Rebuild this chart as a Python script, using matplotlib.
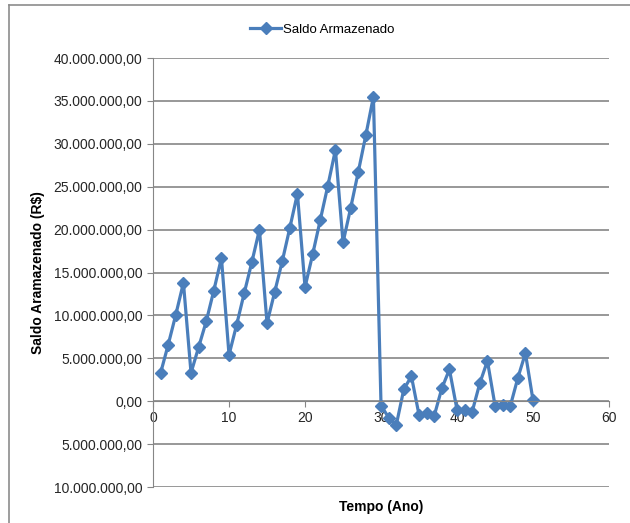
import matplotlib.pyplot as plt
from matplotlib.lines import Line2D
from matplotlib.ticker import FuncFormatter

# ano e saldo armazenado (R$)
anos = list(range(1, 51))
saldo = [
    3.3e6, 6.6e6, 10.1e6, 13.8e6, 3.3e6, 6.3e6, 9.3e6, 12.9e6, 16.7e6, 5.4e6,
    8.9e6, 12.6e6, 16.2e6, 20.0e6, 9.1e6, 12.7e6, 16.3e6, 20.2e6, 24.2e6, 13.3e6,
    17.1e6, 21.1e6, 25.1e6, 29.3e6, 18.5e6, 22.5e6, 26.7e6, 31.0e6, 35.5e6, -0.5e6,
    -1.9e6, -2.8e6, 1.4e6, 2.9e6, -1.6e6, -1.4e6, -1.7e6, 1.5e6, 3.7e6, -1.0e6,
    -1.0e6, -1.2e6, 2.1e6, 4.7e6, -0.5e6, -0.4e6, -0.6e6, 2.7e6, 5.6e6, 0.1e6,
]
x_ticks = [0, 10, 20, 30, 40, 50, 60]
y_ticks = [-10e6, -5e6, 0, 5e6, 10e6, 15e6, 20e6, 25e6, 30e6, 35e6, 40e6]

plt.rcParams['font.family'] = ['Liberation Sans Narrow', 'Liberation Sans', 'DejaVu Sans']

BLUE = '#4a7ebb'
GRID = '#868686'


def fmt_real(v, pos=None):
    # formato Excel: sem sinal, ponto para milhar e virgula decimal
    s = f'{abs(v):,.2f}'
    return s.replace(',', 'X').replace('.', ',').replace('X', '.')


fig = plt.figure(figsize=(6.3, 5.23), dpi=100)
ax = fig.add_axes([0.2429, 0.0688, 0.7238, 0.8203])

ax.plot(anos, saldo, color=BLUE, linewidth=2.3, marker='D', markersize=6.5,
        markerfacecolor=BLUE, markeredgecolor=BLUE, label='Saldo Armazenado')

ax.set_xlim(0, 60)
ax.set_ylim(-10e6, 40e6)
ax.set_xticks(x_ticks)
ax.set_yticks(y_ticks)
ax.yaxis.set_major_formatter(FuncFormatter(fmt_real))

ax.grid(axis='y', color=GRID, linewidth=1.2)
ax.set_axisbelow(True)
for side in ['top', 'right']:
    ax.spines[side].set_visible(False)
ax.spines['bottom'].set_position(('data', 0))
ax.spines['bottom'].set_color(GRID)
ax.spines['left'].set_color(GRID)
ax.tick_params(axis='both', colors=GRID, labelcolor='#262626', labelsize=10, length=4)
ax.tick_params(axis='x', pad=3)

ax.set_ylabel('Saldo Aramazenado (R$)', fontsize=10, fontweight='bold', labelpad=6)
ax.set_xlabel('Tempo (Ano)', fontsize=10, fontweight='bold')
ax.xaxis.set_label_coords(0.5, -0.03)

ax.legend(loc='upper center', bbox_to_anchor=(0.372, 1.108), frameon=False,
          fontsize=9.5, handlelength=2.3, handletextpad=0.2)

# moldura do grafico (cortada a direita e em baixo)
fig.add_artist(Line2D([9 / 630, 1], [1 - 5 / 523] * 2, color='#8c8c8c', linewidth=1.2))
fig.add_artist(Line2D([9 / 630] * 2, [0, 1 - 5 / 523], color='#8c8c8c', linewidth=1.2))

fig.savefig('out.png', dpi=100)
